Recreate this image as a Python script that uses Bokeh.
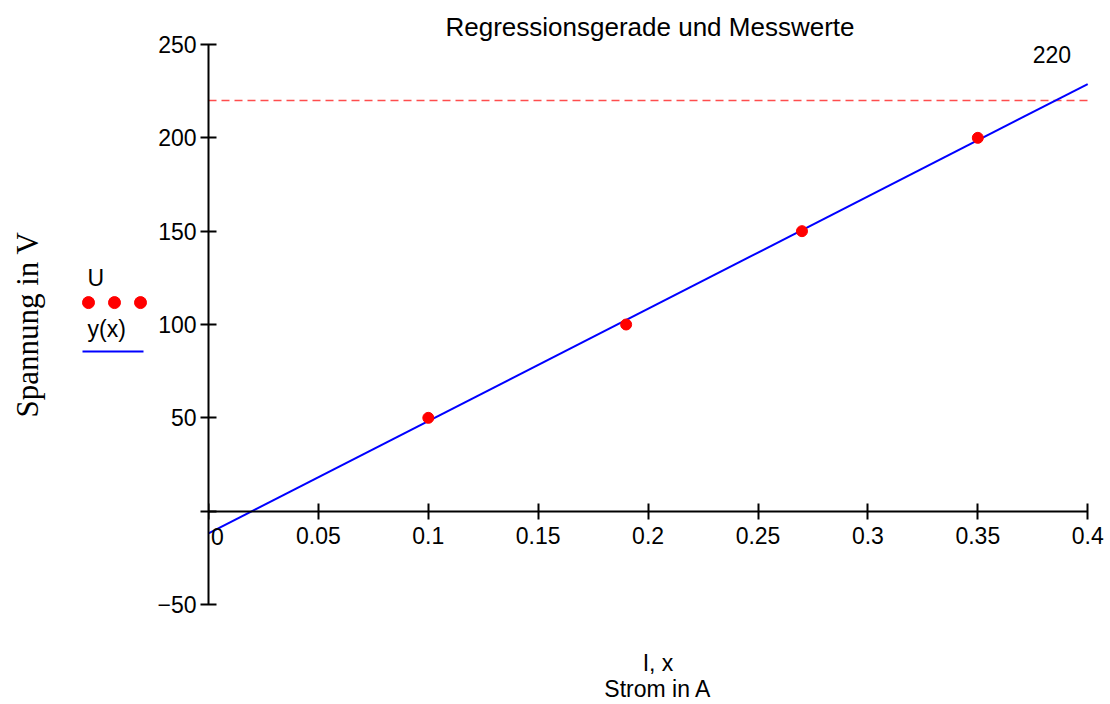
import math
from bokeh.plotting import figure
from bokeh.models import Range1d, FixedTicker, Label, LinearAxis
from bokeh.layouts import row
from bokeh.embed import file_html
from bokeh.resources import INLINE
from bokeh.core.properties import value

# ---- data ----
current_A = [0.10, 0.19, 0.27, 0.35]
voltage_V = [50, 100, 150, 200]
fit_x = [0.0, 0.4]
fit_y = [-11.9, 228.8]
limit_V = 220
x_ticks = [0, 0.05, 0.1, 0.15, 0.2, 0.25, 0.3, 0.35, 0.4]
x_tick_labels = ["", "0.05", "0.1", "0.15", "0.2", "0.25", "0.3", "0.35", "0.4"]
y_ticks = [-50, 0, 50, 100, 150, 200, 250]
y_tick_labels = ["\u221250", "", "50", "100", "150", "200", "250"]

FONT = "Liberation Sans"
H = 704
TOP, BOTTOM = 44, 98

# ---- left panel: y label + legend (pixel-like coordinates) ----
leg = figure(width=148, height=H, x_range=Range1d(0, 148), y_range=Range1d(BOTTOM, H - TOP),
             x_axis_type=None, y_axis_type=None, toolbar_location=None,
             output_backend="svg", min_border_left=0, min_border_right=0,
             min_border_top=TOP, min_border_bottom=BOTTOM)
leg.grid.visible = False
leg.outline_line_color = None
leg.text(x=[27], y=[379], text=["Spannung in V"], angle=math.pi / 2,
         text_font=value("Liberation Serif"), text_font_size="31px",
         text_align="center", text_baseline="middle", text_color="black")
leg.text(x=[87, 87], y=[426, 374], text=["U", "y(x)"], text_font=value(FONT),
         text_font_size="23px", text_align="left", text_baseline="middle",
         text_color="black")
leg.scatter(x=[88, 114, 140], y=[401, 401, 401], size=12, color="#ff0000")
leg.line(x=[82, 143], y=[352, 352], line_color="#0000ff", line_width=2)

# ---- main plot ----
p = figure(width=960, height=H, x_range=Range1d(0, 0.409), y_range=Range1d(-50, 250),
           toolbar_location=None, output_backend="svg",
           min_border_left=60, min_border_right=1, min_border_top=TOP,
           min_border_bottom=BOTTOM)
p.grid.visible = False
p.outline_line_color = None
p.title.text = "Regressionsgerade und Messwerte"
p.title.align = "left"
p.title.offset = 237
p.title.text_font = FONT
p.title.text_font_size = "26px"
p.title.text_font_style = "normal"
p.title.text_color = "black"
p.title.standoff = 6

p.xaxis.fixed_location = 0
p.xaxis.bounds = (x_ticks[0], x_ticks[-1])
for ax, ticks, labels, st in ((p.xaxis, x_ticks, x_tick_labels, 8),
                              (p.yaxis, y_ticks, y_tick_labels, 4)):
    ax.ticker = FixedTicker(ticks=ticks)
    ax.major_label_overrides = {t: l for t, l in zip(ticks, labels)}
    ax.minor_tick_line_color = None
    ax.major_tick_in = 8
    ax.major_tick_out = 8
    ax.axis_line_width = 2
    ax.major_tick_line_width = 2
    ax.axis_line_color = "black"
    ax.major_tick_line_color = "black"
    ax.major_label_text_font = FONT
    ax.major_label_text_font_size = "23px"
    ax.major_label_text_color = "black"
    ax.major_label_standoff = st

# axis carrying only the x axis title, below the plot area
xt = LinearAxis(ticker=FixedTicker(ticks=[]), axis_line_color=None,
                major_tick_line_color=None, minor_tick_line_color=None,
                major_tick_out=0, major_tick_in=0, major_label_text_font_size="0px",
                axis_label="I, x\nStrom in A", axis_label_text_font=FONT,
                axis_label_text_font_size="23px", axis_label_text_font_style="normal",
                axis_label_text_color="black", axis_label_text_line_height=1.0,
                axis_label_standoff=45)
p.add_layout(xt, "below")

p.line([x_ticks[0], x_ticks[-1]], [limit_V, limit_V], line_color="#ff4d4d",
       line_dash="8 5", line_width=1.5)
p.line(fit_x, fit_y, line_color="#0000ff", line_width=2)
p.scatter(current_A, voltage_V, size=11, color="#ff0000")

p.add_layout(Label(x=0, y=0, text="0", x_offset=9, y_offset=-25, text_font=FONT,
                   text_font_size="23px", text_align="center", text_baseline="middle",
                   text_color="black"))
p.add_layout(Label(x=0.3837, y=244.4, text=str(limit_V), text_font=FONT,
                   text_font_size="23px", text_align="center", text_baseline="middle",
                   text_color="black"))

layout = row(leg, p)
open("out.html", "w").write(file_html(layout, INLINE))
